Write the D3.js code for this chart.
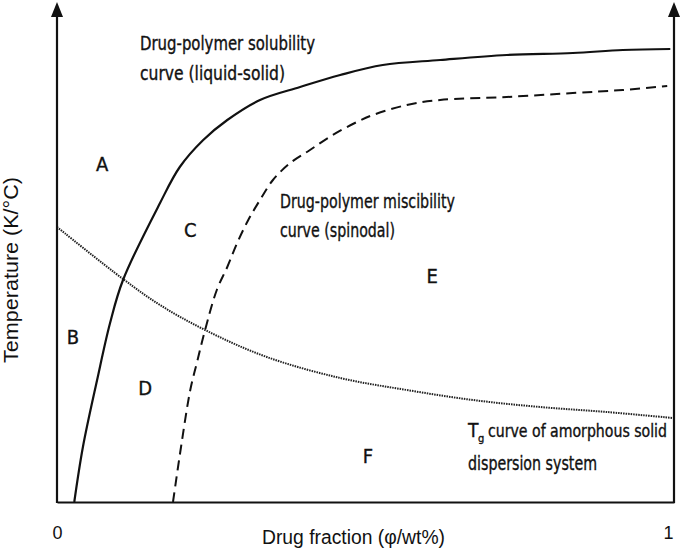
<!DOCTYPE html>
<html>
<head>
<meta charset="utf-8">
<script src="https://cdn.jsdelivr.net/npm/d3@7"></script>
<style>
  body { margin: 0; background: #fff; }
  .ann { font-family: "Liberation Sans Narrow", "DejaVu Sans Condensed", "Open Sans", sans-serif; font-size: 19px; fill: #111; stroke: #111; stroke-width: 0.35px; }
  .region { font-size: 20px; }
  .ax { font-family: "Liberation Sans", Arial, sans-serif; font-size: 20px; fill: #111; }
</style>
</head>
<body>
<div id="chart"></div>
<script>
// drug fraction (0..1) vs temperature (arbitrary units 0..100)
const solubilityX = [0.028, 0.042, 0.065, 0.086, 0.107, 0.167, 0.199, 0.237, 0.276, 0.329, 0.394, 0.459, 0.528, 0.621, 0.729, 0.836, 0.917, 0.994];
const solubilityT = [0, 11, 24.4, 35.8, 44.4, 59.8, 67, 72.4, 76.4, 80.4, 83, 85.4, 87.4, 88.4, 89.4, 89.8, 90.4, 90.6];

const spinodalX = [0.188, 0.201, 0.216, 0.227, 0.240, 0.259, 0.276, 0.292, 0.310, 0.329, 0.350, 0.378, 0.410, 0.447, 0.486, 0.512, 0.567, 0.621, 0.729, 0.836, 0.917, 0.989];
const spinodalT = [0, 11, 22.4, 28, 34.4, 42.4, 47, 51.8, 56.4, 60.4, 64.4, 67.8, 70.4, 73.4, 76, 77.4, 79.4, 80.4, 81, 81.8, 82.4, 83.2];

const tgX = [0, 0.107, 0.167, 0.240, 0.340, 0.459, 0.567, 0.674, 0.783, 0.891, 0.998];
const tgT = [55, 44.6, 39.4, 34.4, 29, 24.8, 22.4, 20.4, 19, 18, 16.8];

const xTicks = [0, 1];
const xTickLabels = ["0", "1"];

const regionNames = ["A", "B", "C", "D", "E", "F"];
const regionX = [0.073, 0.026, 0.216, 0.143, 0.608, 0.504];
const regionT = [67.6, 33, 54.4, 22.8, 45.2, 9.2];

const width = 685, height = 553;

const x = d3.scaleLinear().domain([0, 1]).range([57, 674]);
const y = d3.scaleLinear().domain([0, 100]).range([502, 2]);

const svg = d3.select("#chart").append("svg")
  .attr("width", width)
  .attr("height", height);

const toPts = (xs, ts) => xs.map((v, i) => [v, ts[i]]);

const line = d3.line()
  .x(d => x(d[0]))
  .y(d => y(d[1]))
  .curve(d3.curveCatmullRom.alpha(0.5));

// solubility curve (solid)
svg.append("path")
  .datum(toPts(solubilityX, solubilityT))
  .attr("d", line)
  .attr("fill", "none")
  .attr("stroke", "#111")
  .attr("stroke-width", 2.2);

// spinodal (dashed)
svg.append("path")
  .datum(toPts(spinodalX, spinodalT))
  .attr("d", line)
  .attr("fill", "none")
  .attr("stroke", "#111")
  .attr("stroke-width", 2)
  .attr("stroke-dasharray", "10,6");

// Tg curve (dotted)
svg.append("path")
  .datum(toPts(tgX, tgT))
  .attr("d", line)
  .attr("fill", "none")
  .attr("stroke", "#222")
  .attr("stroke-width", 2)
  .attr("stroke-dasharray", "1.5,1");

// bottom axis
const xAxis = d3.axisBottom(x)
  .tickValues(xTicks)
  .tickFormat((d, i) => xTickLabels[i])
  .tickSize(0)
  .tickPadding(24);

const gx = svg.append("g")
  .attr("transform", `translate(0, ${y(0)})`)
  .call(xAxis);
gx.select(".domain").attr("stroke", "#111").attr("stroke-width", 2.2);
gx.selectAll("text")
  .attr("class", "ax")
  .style("font-size", "18px");
gx.attr("font-family", null).attr("font-size", null);
gx.selectAll(".tick").filter(d => d === 1).select("text").attr("dx", -6);

// vertical axes with arrows
xTicks.forEach(v => {
  svg.append("line")
    .attr("x1", x(v)).attr("x2", x(v))
    .attr("y1", y(0) + 1).attr("y2", 14)
    .attr("stroke", "#111")
    .attr("stroke-width", 2.2);
  svg.append("path")
    .attr("d", `M${x(v) - 6},17 L${x(v) + 6},17 L${x(v)},2 Z`)
    .attr("fill", "#111");
});

// axis titles
svg.append("text")
  .attr("class", "ax")
  .attr("x", 262).attr("y", 544)
  .attr("textLength", 183)
  .attr("lengthAdjust", "spacingAndGlyphs")
  .text("Drug fraction (φ/wt%)");

svg.append("text")
  .attr("class", "ax")
  .attr("transform", "translate(18, 270) rotate(-90)")
  .attr("text-anchor", "middle")
  .attr("textLength", 186)
  .attr("lengthAdjust", "spacingAndGlyphs")
  .text("Temperature (K/°C)");

// region letters
svg.selectAll(".region")
  .data(regionNames)
  .join("text")
  .attr("class", "ann region")
  .attr("x", (d, i) => x(regionX[i]))
  .attr("y", (d, i) => y(regionT[i]) + 7)
  .attr("text-anchor", "middle")
  .text(d => d);

// curve annotations
function ann(txt, px, py, len) {
  const t = svg.append("text")
    .attr("class", "ann")
    .attr("x", px).attr("y", py)
    .text(txt);
  if (len) t.attr("textLength", len).attr("lengthAdjust", "spacingAndGlyphs");
  return t;
}
ann("Drug-polymer solubility", 140, 50, 175);
ann("curve (liquid-solid)", 140, 80, 145);
ann("Drug-polymer miscibility", 280, 208, 175);
ann("curve (spinodal)", 280, 237, 115);
ann("dispersion system", 468, 470, 129);

// T with subscript g, then the rest of the line
ann("T", 468, 437);
ann("g", 478, 442).style("font-size", "11px");
ann("curve of amorphous solid", 488, 437, 179).style("font-size", "17px");
</script>
</body>
</html>
